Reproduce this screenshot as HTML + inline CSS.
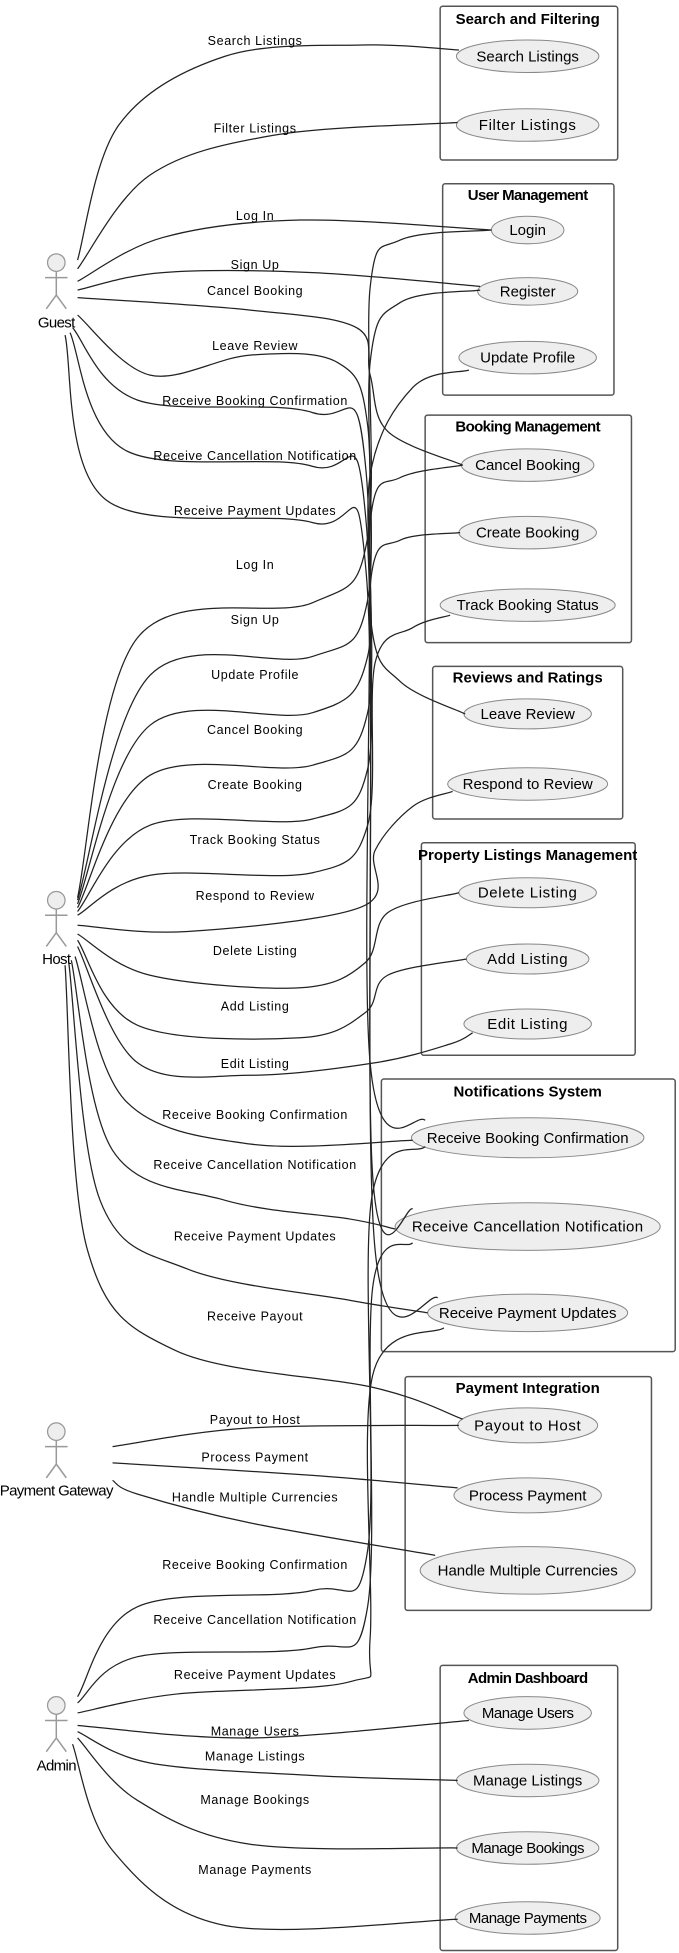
<!DOCTYPE html>
<html><head><meta charset="utf-8"><style>
html,body{margin:0;padding:0;background:#fff;}
svg{display:block;}
.t{font-family:"Liberation Sans",sans-serif;font-size:12px;fill:#000;text-anchor:middle;}
.e{font-family:"Liberation Sans",sans-serif;font-size:10px;letter-spacing:0.5px;fill:#000;text-anchor:middle;}
.h{font-family:"Liberation Sans",sans-serif;font-size:12px;font-weight:bold;fill:#000;text-anchor:middle;}
.a{font-family:"Liberation Sans",sans-serif;font-size:12px;letter-spacing:-0.5px;fill:#000;text-anchor:middle;}
</style></head><body>
<svg width="679" height="1953" viewBox="0 0 543 1562" xmlns="http://www.w3.org/2000/svg">
<g fill="none" stroke="#555" stroke-width="1.2">
<rect x="352" y="5" width="142" height="123" rx="2"/>
<rect x="354" y="147" width="137" height="169" rx="2"/>
<rect x="340" y="332" width="165" height="182" rx="2"/>
<rect x="346" y="533" width="152" height="122" rx="2"/>
<rect x="337" y="674" width="171" height="170" rx="2"/>
<rect x="305" y="863" width="235" height="218" rx="2"/>
<rect x="324" y="1101" width="197" height="187" rx="2"/>
<rect x="352" y="1332" width="142" height="228" rx="2"/>
</g>
<g fill="#eee" stroke="#888" stroke-width="0.8">
<ellipse cx="422" cy="45" rx="57" ry="13"/>
<ellipse cx="422" cy="100" rx="57" ry="13"/>
<ellipse cx="422" cy="184" rx="29" ry="11"/>
<ellipse cx="422" cy="233" rx="40" ry="11"/>
<ellipse cx="422" cy="286" rx="55" ry="13"/>
<ellipse cx="422" cy="372" rx="53" ry="13"/>
<ellipse cx="422" cy="426" rx="55" ry="13"/>
<ellipse cx="422" cy="484" rx="70" ry="13"/>
<ellipse cx="422" cy="571" rx="51" ry="12"/>
<ellipse cx="422" cy="627" rx="64" ry="13"/>
<ellipse cx="422" cy="714" rx="55" ry="12"/>
<ellipse cx="422" cy="767" rx="49" ry="12"/>
<ellipse cx="422" cy="819" rx="51" ry="12"/>
<ellipse cx="422" cy="910" rx="93" ry="16"/>
<ellipse cx="422" cy="981" rx="106" ry="19"/>
<ellipse cx="422" cy="1050" rx="80" ry="15"/>
<ellipse cx="422" cy="1140" rx="56" ry="14"/>
<ellipse cx="422" cy="1196" rx="59" ry="14"/>
<ellipse cx="422" cy="1256" rx="86" ry="19"/>
<ellipse cx="422" cy="1370" rx="51" ry="13"/>
<ellipse cx="422" cy="1424" rx="57" ry="13"/>
<ellipse cx="422" cy="1478" rx="57" ry="13"/>
<ellipse cx="422" cy="1534" rx="58" ry="13"/>
</g>
<g id="edges" fill="none" stroke="#222" stroke-width="1"></g>
<g id="actors"></g>
<text class="h" x="422" y="19">Search and Filtering</text>
<text class="h" x="422" y="160" letter-spacing="-0.5">User Management</text>
<text class="h" x="422" y="345" letter-spacing="-0.5">Booking Management</text>
<text class="h" x="422" y="546">Reviews and Ratings</text>
<text class="h" x="422" y="688">Property Listings Management</text>
<text class="h" x="422" y="877">Notifications System</text>
<text class="h" x="422" y="1114">Payment Integration</text>
<text class="h" x="422" y="1346" letter-spacing="-0.5">Admin Dashboard</text>
<g class="t">
<text x="422" y="49">Search Listings</text>
<text x="422" y="104" letter-spacing="0.5">Filter Listings</text>
<text x="422" y="188">Login</text>
<text x="422" y="237">Register</text>
<text x="422" y="290">Update Profile</text>
<text x="422" y="376">Cancel Booking</text>
<text x="422" y="430">Create Booking</text>
<text x="422" y="488">Track Booking Status</text>
<text x="422" y="575">Leave Review</text>
<text x="422" y="631">Respond to Review</text>
<text x="422" y="718" letter-spacing="0.5">Delete Listing</text>
<text x="422" y="771" letter-spacing="0.5">Add Listing</text>
<text x="422" y="823" letter-spacing="0.5">Edit Listing</text>
<text x="422" y="914">Receive Booking Confirmation</text>
<text x="422" y="985" letter-spacing="0.3">Receive Cancellation Notification</text>
<text x="422" y="1054">Receive Payment Updates</text>
<text x="422" y="1144" letter-spacing="0.5">Payout to Host</text>
<text x="422" y="1200">Process Payment</text>
<text x="422" y="1260">Handle Multiple Currencies</text>
<text x="422" y="1374" letter-spacing="-0.4">Manage Users</text>
<text x="422" y="1428">Manage Listings</text>
<text x="422" y="1482" letter-spacing="-0.4">Manage Bookings</text>
<text x="422" y="1538" letter-spacing="-0.4">Manage Payments</text>
</g>
<g class="e">
<text x="204" y="36">Search Listings</text>
<text x="204" y="106">Filter Listings</text>
<text x="204" y="176">Log In</text>
<text x="204" y="215">Sign Up</text>
<text x="204" y="236">Cancel Booking</text>
<text x="204" y="280">Leave Review</text>
<text x="204" y="324">Receive Booking Confirmation</text>
<text x="204" y="368">Receive Cancellation Notification</text>
<text x="204" y="412">Receive Payment Updates</text>
<text x="204" y="455">Log In</text>
<text x="204" y="499">Sign Up</text>
<text x="204" y="543">Update Profile</text>
<text x="204" y="587">Cancel Booking</text>
<text x="204" y="631">Create Booking</text>
<text x="204" y="675">Track Booking Status</text>
<text x="204" y="720">Respond to Review</text>
<text x="204" y="764">Delete Listing</text>
<text x="204" y="808">Add Listing</text>
<text x="204" y="854">Edit Listing</text>
<text x="204" y="895">Receive Booking Confirmation</text>
<text x="204" y="935">Receive Cancellation Notification</text>
<text x="204" y="992">Receive Payment Updates</text>
<text x="204" y="1056">Receive Payout</text>
<text x="204" y="1139">Payout to Host</text>
<text x="204" y="1169">Process Payment</text>
<text x="204" y="1201">Handle Multiple Currencies</text>
<text x="204" y="1255">Receive Booking Confirmation</text>
<text x="204" y="1299">Receive Cancellation Notification</text>
<text x="204" y="1343">Receive Payment Updates</text>
<text x="204" y="1388">Manage Users</text>
<text x="204" y="1408">Manage Listings</text>
<text x="204" y="1443">Manage Bookings</text>
<text x="204" y="1499">Manage Payments</text>
</g>
<g class="a">
<text x="45" y="262">Guest</text>
<text x="45" y="771">Host</text>
<text x="45" y="1196">Payment Gateway</text>
<text x="45" y="1416">Admin</text>
</g>
</svg>
<script>
var E=[
[[62,208],[95,100],[180,45],[290,36],[367,40]],
[[62,215],[120,140],[220,108],[366,98]],
[[62,225],[130,190],[240,176],[393,184]],
[[62,232],[130,218],[250,218],[384,229]],
[[62,238],[200,248],[285,262],[296,300],[310,345],[370,372]],
[[62,252],[120,300],[200,284],[270,290],[294,340],[297,500],[320,545],[372,571]],
[[58,262],[110,320],[250,330],[293,380],[296,850],[340,896]],
[[56,266],[100,360],[250,373],[293,420],[298,940],[330,967]],
[[52,268],[85,400],[250,418],[293,460],[300,1000],[350,1038]],
[[62,718],[110,510],[250,482],[294,430],[296,230],[320,192],[393,184]],
[[62,720],[120,540],[250,525],[294,480],[296,290],[320,242],[384,232]],
[[62,723],[120,580],[250,570],[294,525],[296,380],[330,310],[375,296]],
[[62,726],[120,620],[250,612],[294,570],[297,410],[320,382],[370,372]],
[[62,729],[120,660],[250,655],[294,615],[297,460],[320,432],[368,426]],
[[62,732],[120,700],[250,698],[294,660],[300,530],[330,502],[360,492]],
[[62,740],[150,745],[290,725],[300,680],[330,645],[362,633]],
[[62,747],[120,780],[240,790],[292,770],[310,730],[367,714]],
[[62,752],[110,820],[240,830],[292,810],[310,780],[373,767]],
[[62,757],[110,850],[200,860],[300,850],[360,835],[378,826]],
[[60,765],[100,880],[200,915],[330,912]],
[[57,768],[90,920],[180,960],[280,975],[316,983]],
[[55,770],[80,960],[150,1015],[280,1040],[342,1050]],
[[52,772],[70,1000],[140,1080],[300,1110],[370,1135]],
[[90,1157],[200,1142],[367,1140]],
[[90,1170],[250,1180],[366,1190]],
[[90,1184],[110,1195],[200,1218],[348,1244]],
[[62,1357],[110,1285],[250,1272],[294,1240],[297,960],[340,917]],
[[62,1362],[110,1325],[250,1318],[294,1285],[298,1030],[330,994]],
[[62,1370],[140,1355],[280,1345],[296,1310],[298,1100],[355,1062]],
[[62,1380],[200,1390],[375,1376]],
[[62,1385],[120,1410],[250,1420],[366,1424]],
[[62,1390],[110,1440],[200,1475],[366,1478]],
[[58,1395],[90,1480],[180,1540],[366,1535]]
];
var ns="http://www.w3.org/2000/svg",g=document.getElementById('edges');
E.forEach(function(p){
 var d="M"+p[0][0]+" "+p[0][1];
 for(var i=0;i<p.length-1;i++){
  var p0=p[i-1]||p[i],p1=p[i],p2=p[i+1],p3=p[i+2]||p2;
  var c1=[p1[0]+(p2[0]-p0[0])/6,p1[1]+(p2[1]-p0[1])/6];
  var c2=[p2[0]-(p3[0]-p1[0])/6,p2[1]-(p3[1]-p1[1])/6];
  d+=" C"+c1.join(" ")+" "+c2.join(" ")+" "+p2.join(" ");
 }
 var el=document.createElementNS(ns,'path');el.setAttribute('d',d);g.appendChild(el);
});
var A=document.getElementById('actors');
[210,720,1145,1364].forEach(function(y){
 var s='<circle cx="45" cy="'+y+'" r="7" fill="#eee" stroke="#999" stroke-width="1"/>'+
 '<g stroke="#999" stroke-width="1.2" fill="none"><line x1="45" y1="'+(y+7)+'" x2="45" y2="'+(y+26)+'"/>'+
 '<line x1="36" y1="'+(y+12)+'" x2="54" y2="'+(y+12)+'"/>'+
 '<line x1="45" y1="'+(y+26)+'" x2="37" y2="'+(y+37)+'"/><line x1="45" y1="'+(y+26)+'" x2="53" y2="'+(y+37)+'"/></g>';
 A.insertAdjacentHTML('beforeend',s);
});
</script>
</body></html>
